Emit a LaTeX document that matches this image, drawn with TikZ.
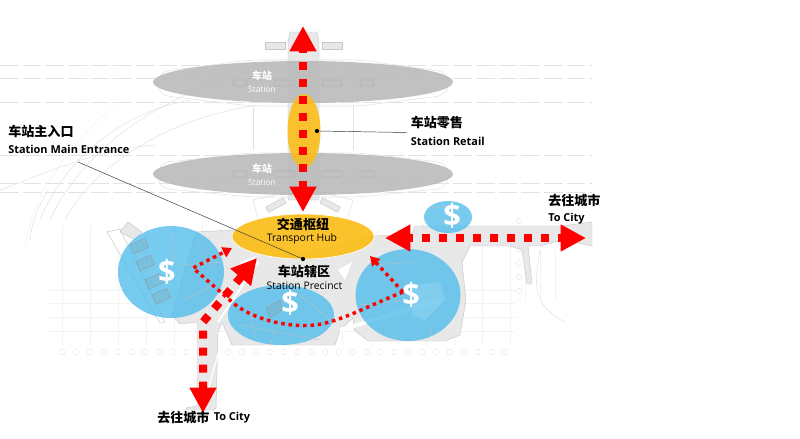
\documentclass[tikz,border=0pt]{standalone}
\usepackage{fontspec}
\setmainfont{Open Sans}
\newfontfamily\cjk{Noto Sans CJK SC}
\usetikzlibrary{arrows.meta,calc}
\definecolor{bld}{HTML}{E8E8E8}
\definecolor{plan}{HTML}{E2E2E2}
\definecolor{gridc}{HTML}{F2F2F2}
\definecolor{stn}{HTML}{BABABA}
\definecolor{gold}{HTML}{FBBC14}
\definecolor{sky}{HTML}{4FBDEB}
\definecolor{rd}{HTML}{FF0000}
\tikzset{
 px/.style={x=0.75pt,y=-0.75pt},
 planline/.style={draw=plan,line width=0.4pt},
 faint/.style={draw=gridc,line width=0.4pt},
 dashline/.style={draw=plan,line width=0.5pt,dash pattern=on 14pt off 3pt},
 building/.style={fill=bld,draw=black!22,line width=0.35pt},
 stationfill/.style={fill=stn,opacity=0.9},
 goldfill/.style={fill=gold,opacity=0.88},
 skyfill/.style={fill=sky,opacity=0.78},
 bigflow/.style={draw=rd,line width=6pt,dash pattern=on 6pt off 6.75pt,
   {Triangle[length=19pt,width=19pt,fill=rd]}-{Triangle[length=19pt,width=19pt,fill=rd]}},
 smallflow/.style={draw=rd,line width=2.6pt,dash pattern=on 2.6pt off 2.9pt,
   -{Triangle[length=7pt,width=8pt,fill=rd]}},
 leader/.style={draw=black!80,line width=0.35pt},
 zh/.style={font=\cjk\bfseries\fontsize{9.8}{10}\selectfont,inner sep=0pt,text=black},
 en/.style={font=\bfseries\fontsize{8.2}{9}\selectfont,inner sep=0pt,text=black},
 enr/.style={font=\fontsize{7.8}{9}\selectfont,inner sep=0pt,text=black},
 whzh/.style={font=\cjk\bfseries\fontsize{7.4}{8}\selectfont,inner sep=0pt,text=white},
 when/.style={font=\fontsize{6.3}{8}\selectfont,inner sep=0pt,text=white},
 dollar/.style={font=\bfseries\fontsize{23}{24}\selectfont,inner sep=0pt,text=white},
 bubble/.style={draw=black!11,line width=0.3pt,circle,minimum size=4.2pt,inner sep=0pt},
 dot/.style={circle,fill=black,minimum size=3.2pt,inner sep=0pt},
 detail/.style={draw=black!25,line width=0.3pt},
 block/.style={draw=black!40,fill=black!45,fill opacity=0.18,line width=0.3pt},
}
\begin{document}
\begin{tikzpicture}[px]
\useasboundingbox (0,0) rectangle (800,439);
% faint grid
\foreach \y in {290,303,317,331} \draw[faint] (50,\y) -- (515,\y);
\foreach \x in {62,90,118,146,174,202,230,258,286,314,342,370,398,426,454,482,510}
  \draw[faint] (\x,225) -- (\x,345);
\foreach \x in {525,540,555} \draw[faint] (\x,250) -- (\x,300);
% long dashed lines
\foreach \y in {65,78,102,155,183,192} \draw[dashline] (0,\y) -- (592,\y);
% arcs upper left
\draw[planline] (40,220) .. controls (60,170) and (110,115) .. (190,100);
\draw[planline] (50,220) .. controls (70,175) and (130,100) .. (265,68);
\draw[planline] (65,220) .. controls (85,180) and (150,120) .. (260,105);
\draw[planline] (0,190) .. controls (30,180) and (90,150) .. (155,145);
\draw[faint] (25,245) .. controls (35,190) and (65,150) .. (115,105);
\draw[planline] (30,240) .. controls (33,215) and (40,205) .. (48,190);
% central concourse frame
\draw[planline] (253,107) -- (253,150);
\draw[planline] (353,105) -- (353,150);
\draw[building] (288,42) -- (290,32) -- (317,32) -- (319,42) -- (319,200) -- (288,200) -- cycle;
\draw[building] (265,42) rectangle (285,49);
\draw[building] (322,42) rectangle (342,49);
\draw[building,rotate around={28:(276,205)}] (266,202) rectangle (286,208);
\draw[building,rotate around={-28:(330,205)}] (320,202) rectangle (340,208);
\draw[planline] (253,200) -- (260,225); \draw[planline] (253,200) -- (288,192);
\draw[planline] (353,200) -- (346,225); \draw[planline] (353,200) -- (319,192);
% station outlines
\draw[planline,rounded corners=8pt] (158,72) -- (250,60) -- (360,60) -- (448,72) -- (448,95) -- (360,106) -- (250,106) -- (158,95) -- cycle;
\draw[planline,rounded corners=8pt] (158,163) -- (250,153) -- (360,153) -- (448,163) -- (448,188) -- (360,197) -- (250,197) -- (158,188) -- cycle;
% building plan
\draw[draw=black!22,line width=0.35pt,fill=white] (107,232) -- (120,229) -- (165,322) -- (160,323) -- cycle;
\draw[building] (128,222) -- (142,232) -- (135,240) -- (120,232) -- cycle;
\draw[building] (172,315) -- (196,232) -- (232,230) -- (303,255) -- (375,236) -- (412,234)
  -- (415,226) -- (562,226) -- (592,222) -- (592,246) -- (562,240) -- (540,246) -- (528,246) -- (532,284) -- (527,284) -- (522,250) -- (510,246)
  -- (470,246) -- (462,262) -- (466,300) -- (460,335) -- (445,341) -- (368,341) -- (354,330) -- (353,318) -- (340,330) -- (335,345) -- (232,345) -- (222,322) -- (218,332) -- (216,408) -- (214,410) -- (186,410) -- (186,408) -- (197,406) -- (197,322) -- (180,324) -- cycle;
\fill[white] (240,262) -- (256,256) -- (246,270) -- cycle;
\fill[white] (338,270) -- (352,262) -- (345,280) -- cycle;
\draw[white,line width=1.5pt] (218,322) -- (258,262);
\draw[white,line width=3pt] (340,330) -- (440,300);
\draw[white,line width=1pt] (222,340) -- (205,400);
\draw[planline] (540,250) .. controls (535,280) and (530,305) .. (565,322);
\draw[planline] (425,222) .. controls (418,228) and (428,238) .. (472,232);
% bubbles
\foreach \i in {0,...,32} \node[bubble] (b\i) at ({62+13.85*\i},352) {};
\foreach \i in {0,...,5} \node[bubble] (c\i) at (519,{221+14*\i}) {};
% ellipses
\fill[stationfill] (303,82) ellipse [x radius=150,y radius=21];
\fill[stationfill] (303,174) ellipse [x radius=150,y radius=21];
\foreach \x/\w in {233/14,274/20,322/20,360/14}{
 \draw[draw=black!30,line width=0.4pt,rounded corners=1pt] (\x,80) rectangle ++(\w,6);
 \draw[draw=black!30,line width=0.4pt,rounded corners=1pt] (\x,171) rectangle ++(\w,6);
}
\fill[goldfill] (304,131) ellipse [x radius=16.5,y radius=37];
\draw[fill=gold,fill opacity=0.9,draw=white,line width=0.5pt] (303,236.5) ellipse [x radius=71,y radius=22.5];
% blue zones
\fill[skyfill] (171,272) ellipse [x radius=53,y radius=46];
\fill[skyfill] (281,315) ellipse [x radius=53,y radius=30];
\fill[skyfill] (408,295) ellipse [x radius=52.5,y radius=46];
\fill[skyfill] (448,217) ellipse [x radius=24,y radius=16];
\fill[sky!60,opacity=0.45] (412,285) -- (440,282) -- (445,300) -- (425,320) -- (412,315) -- cycle;
% plan details on zones
\foreach \a/\b in {130/245,136/262,145/280,152/295}
  \draw[block,rotate around={25:(\a,\b)}] (\a,\b) rectangle ++(16,10);
\draw[detail] (172,232) -- (175,262) (195,240) -- (215,270) (180,265) -- (222,262) (185,300) -- (212,285);
\draw[detail] (240,325) -- (320,340) (250,310) -- (255,340) (275,330) -- (270,345) (300,295) -- (330,320);
\draw[block] (266,308) -- (280,300) -- (282,310) -- (270,318) -- cycle;
\draw[detail] (372,265) -- (415,262) (395,252) -- (395,300) (430,255) -- (430,278) (360,305) -- (412,300) (395,315) -- (395,338) (430,325) -- (432,335);
\draw[detail] (430,208) -- (450,206) -- (462,224);
% flows
\coordinate (ttop) at (303,26);
\coordinate (tbot) at (303,212);
\coordinate (hl) at (385,238);
\coordinate (hr) at (586,238);
\coordinate (vs) at (203,413);
\coordinate (vc) at (203,322);
\coordinate (vt) at (257,258);
\coordinate (sa) at (403,292);
\coordinate (sb) at (370,256);
\coordinate (sc) at (193,268);
\coordinate (sd) at (232,248);
\draw[bigflow,dash phase=3.75pt] (ttop) -- (tbot);
\draw[bigflow,dash phase=3pt] (hl) -- (hr);
\draw[bigflow,dash phase=12.3pt] (vt) -- (vc) -- (vs);
\draw[smallflow] (sa) -- (sb);
\draw[smallflow] (sa) .. controls (370,305) and (340,322) .. (315,325) .. controls (285,328) and (250,318) .. (232,302) -- (sc) -- (sd);
% labels
\node[whzh] (s1z) at (262,76) {车站};
\node[when] (s1e) at (262,89.5) {Station};
\node[whzh] (s2z) at (262,169) {车站};
\node[when] (s2e) at (262,182.5) {Station};
\node[zh,anchor=west] (rz) at (410.5,123) {车站零售};
\node[en,anchor=west] (re) at (410.5,141) {Station Retail};
\node[zh,anchor=west] (mz) at (8,131) {车站主入口};
\node[en,anchor=west] (me) at (8,149.5) {Station Main Entrance};
\node[zh] (hz) at (303,224) {交通枢纽};
\node[enr] (he) at (302,238.5) {Transport Hub};
\node[zh] (pz) at (304,271) {车站辖区};
\node[enr] (pe) at (304.5,285.5) {Station Precinct};
\node[zh,anchor=west] (cz) at (548,200) {去往城市};
\node[en,anchor=west] (ce) at (548,219) {To City};
\node[zh,anchor=west] (dz) at (157,417) {去往城市};
\node[en,anchor=west] (de) at (213.5,417.5) {To City};
\node[dollar] (d1) at (167,272) {\$};
\node[dollar] (d2) at (290,303) {\$};
\node[dollar] (d3) at (411,295) {\$};
\node[dollar] (d4) at (452,216) {\$};
% leaders
\node[dot] (rd) at (317,131) {};
\node[dot] (hd) at (303,259) {};
\coordinate (rl) at (407,132.5);
\coordinate (ml) at (78,162);
\draw[leader] (rd) -- (rl);
\draw[leader] (ml) -- (hd);
\end{tikzpicture}
\end{document}
